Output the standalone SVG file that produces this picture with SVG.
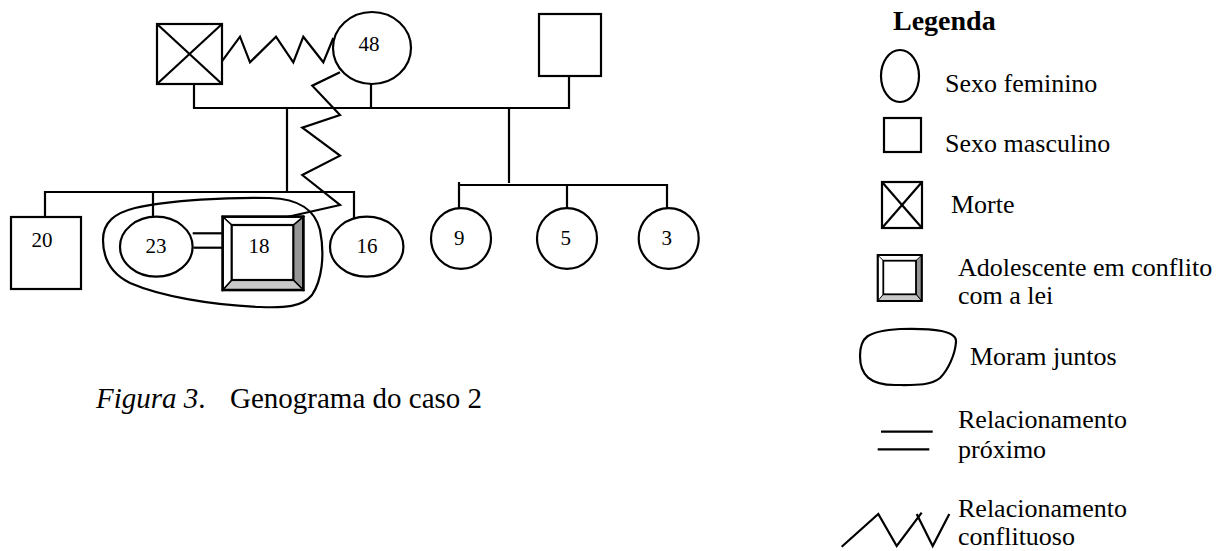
<svg xmlns="http://www.w3.org/2000/svg" width="1226" height="551" viewBox="0 0 1226 551">
<style>
.s{fill:none;stroke:#000;stroke-width:2.2}
.f{fill:#fff;stroke:#000;stroke-width:2.2}
.n{font-family:"Liberation Serif","Times New Roman",serif;font-size:21px;fill:#000;text-anchor:middle}
.t{font-family:"Liberation Serif","Times New Roman",serif;font-size:26px;fill:#000}
.cap{font-family:"Liberation Serif","Times New Roman",serif;font-size:29px;fill:#000}
.h{font-family:"Liberation Serif","Times New Roman",serif;font-size:28px;font-weight:bold;fill:#000}
</style>
<rect width="1226" height="551" fill="#fff"/>
<g id="connectors" class="s">
<polyline points="194,84 194,108 569,108 569,76"/>
<line x1="371" y1="84" x2="371" y2="108"/>
<line x1="287" y1="108" x2="287" y2="192"/>
<polyline points="45,217 45,192 354,192 354,218"/>
<line x1="153" y1="192" x2="153" y2="217"/>
<line x1="509" y1="108" x2="509" y2="183"/>
<polyline points="459,208 459,182 459,185 667,185 667,208"/>
<line x1="567" y1="185" x2="567" y2="208"/>
<polyline points="221.7,61.7 240,36.7 250,62.3 276,36.7 293.3,62.3 303.3,36.7 323.3,62.3 333.3,38"/>
<polyline points="340,72.3 312.3,85.7 340,115 302.3,127.7 340,155.7 302.3,175 340,205 287,217"/>
<line x1="192.7" y1="233.3" x2="222.7" y2="233.3"/>
<line x1="193.5" y1="247.7" x2="222.7" y2="247.7"/>
<path d="M 103,240 C 103,222 115,213 135,208 C 170,200 230,197 270,198 C 300,199 315,210 320,230 C 325,255 322,280 312,295 C 302,307 285,308 260,307 C 210,305 160,296 130,283 C 110,273 103,258 103,240 Z"/>
</g>
<g id="node-dead">
<rect class="f" x="157" y="24" width="65" height="60"/>
<line class="s" x1="157" y1="24" x2="222" y2="84"/>
<line class="s" x1="222" y1="24" x2="157" y2="84"/>
</g>
<g id="node-48">
<ellipse class="f" cx="372" cy="48" rx="39" ry="36"/>
<text class="n" x="369" y="51">48</text>
</g>
<g id="node-father2">
<rect class="f" x="539" y="14" width="62" height="62"/>
</g>
<g id="node-20">
<rect class="f" x="11" y="217" width="70" height="72"/>
<text class="n" x="42" y="247">20</text>
</g>
<g id="node-23">
<ellipse class="f" cx="156.3" cy="246.7" rx="36.3" ry="30"/>
<text class="n" x="156" y="253.3">23</text>
</g>
<g id="node-18">
<rect class="f" x="222.7" y="216.7" width="80.6" height="73.3"/>
<polygon points="293.3,225 303.3,216.7 303.3,290 293.3,280" fill="#969696" stroke="#000" stroke-width="1.5"/>
<polygon points="231.7,280 293.3,280 303.3,290 222.7,290" fill="#c8c8c8" stroke="#000" stroke-width="1.5"/>
<polygon points="222.7,216.7 303.3,216.7 293.3,225 231.7,225" fill="#fff" stroke="#000" stroke-width="1.5"/>
<polygon points="222.7,216.7 231.7,225 231.7,280 222.7,290" fill="#fff" stroke="#000" stroke-width="1.5"/>
<rect class="f" x="231.7" y="225" width="61.6" height="55"/>
<rect x="222.7" y="216.7" width="80.6" height="73.3" fill="none" stroke="#000" stroke-width="2.5"/>
<text class="n" x="259" y="253.3">18</text>
</g>
<g id="node-16">
<ellipse class="f" cx="366.7" cy="246.7" rx="36.7" ry="30"/>
<text class="n" x="367" y="253.3">16</text>
</g>
<g id="node-9">
<ellipse class="f" cx="461" cy="238.5" rx="30" ry="30.3"/>
<text class="n" x="459.3" y="245">9</text>
</g>
<g id="node-5">
<ellipse class="f" cx="567" cy="238.5" rx="30" ry="30.3"/>
<text class="n" x="565.7" y="245">5</text>
</g>
<g id="node-3">
<ellipse class="f" cx="668.7" cy="238.5" rx="30" ry="30.3"/>
<text class="n" x="666.7" y="245">3</text>
</g>
<g id="caption">
<text class="cap" y="408"><tspan x="96" font-style="italic">Figura 3</tspan><tspan>.</tspan><tspan x="230">Genograma do caso 2</tspan></text>
</g>
<g id="legend">
<text class="h" x="893" y="30">Legenda</text>
<ellipse class="f" cx="900" cy="76" rx="19" ry="26" stroke-width="1.8"/>
<text class="t" x="945" y="92">Sexo feminino</text>
<rect class="f" x="884" y="118" width="37" height="34" stroke-width="1.8"/>
<text class="t" x="945" y="152">Sexo masculino</text>
<rect class="f" x="882" y="182" width="40" height="46" stroke-width="1.8"/>
<line class="s" x1="882" y1="182" x2="922" y2="228" stroke-width="1.8"/>
<line class="s" x1="922" y1="182" x2="882" y2="228" stroke-width="1.8"/>
<text class="t" x="951" y="213">Morte</text>
<rect x="877.7" y="255" width="44" height="46" fill="#fff" stroke="#000" stroke-width="1.5"/>
<polygon points="916,260.7 921.7,255 921.7,301 916,294.3" fill="#969696" stroke="#000" stroke-width="1"/>
<polygon points="883.3,294.3 916,294.3 921.7,301 877.7,301" fill="#c8c8c8" stroke="#000" stroke-width="1"/>
<line x1="877.7" y1="255" x2="883.3" y2="260.7" stroke="#000" stroke-width="1"/>
<rect x="883.3" y="260.7" width="32.7" height="33.6" fill="#fff" stroke="#000" stroke-width="1.8"/>
<rect x="877.7" y="255" width="44" height="46" fill="none" stroke="#000" stroke-width="2"/>
<text class="t" x="958" y="276">Adolescente em conflito</text>
<text class="t" x="958" y="304">com a lei</text>
<path class="s" d="M 860,356 C 860,338 866,331 900,329 C 935,328 957,331 956,342 C 955,355 948,370 940,378 C 930,386 915,385 895,385 C 870,385 860,375 860,356 Z"/>
<text class="t" x="970" y="365">Moram juntos</text>
<line class="s" x1="881" y1="431.7" x2="932.7" y2="431.7" stroke-width="1.8"/>
<line class="s" x1="877.7" y1="449.3" x2="929.3" y2="449.3" stroke-width="1.8"/>
<text class="t" x="958" y="428">Relacionamento</text>
<text class="t" x="958" y="458">próximo</text>
<polyline class="s" stroke-width="1.8" points="841.7,546.7 878.3,514 896.7,546 921.7,512.7"/>
<polyline class="s" stroke-width="1.8" points="916.7,514 932.7,546 949.3,514"/>
<text class="t" x="958" y="517">Relacionamento</text>
<text class="t" x="958" y="545">conflituoso</text>
</g>
</svg>
